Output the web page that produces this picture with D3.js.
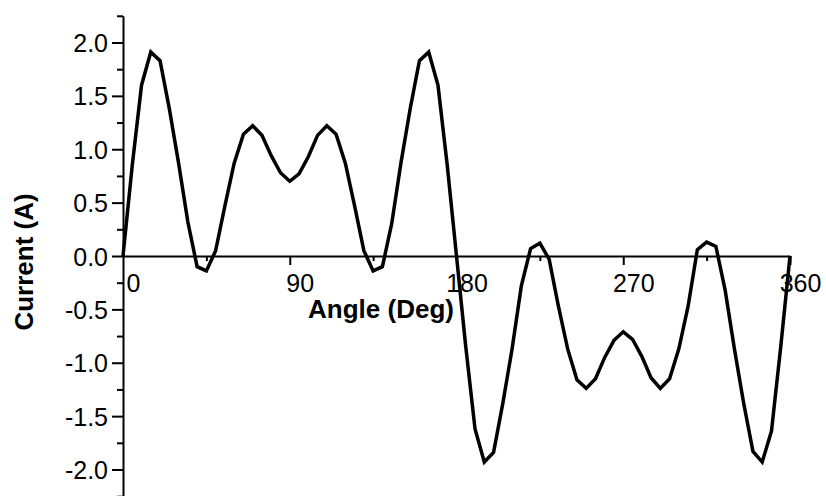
<!DOCTYPE html>
<html>
<head>
<meta charset="utf-8">
<script src="https://cdn.jsdelivr.net/npm/d3@7"></script>
<style>
  html, body { margin: 0; padding: 0; background: #fff; }
  svg { display: block; }
  text { font-family: "Liberation Sans", Arial, sans-serif; fill: #000; }
</style>
</head>
<body>
<svg id="chart" width="826" height="496"></svg>
<script>
// ---- data ----
const angles = [0,5,10,15,20,25,30,35,40,45,50,55,60,65,70,75,80,85,90,
  95,100,105,110,115,120,125,130,135,140,145,150,155,160,165,170,175,180,
  185,190,195,200,205,210,215,220,225,230,235,240,245,250,255,260,265,270,
  275,280,285,290,295,300,305,310,315,320,325,330,335,340,345,350,355,360];
const current = [0,0.85,1.60,1.91,1.83,1.38,0.87,0.32,-0.10,-0.14,0.05,0.47,0.87,1.14,1.22,1.13,0.94,0.78,0.70,
  0.77,0.93,1.13,1.22,1.14,0.87,0.47,0.05,-0.14,-0.10,0.30,0.87,1.38,1.83,1.91,1.60,0.85,0.00,
  -0.85,-1.62,-1.93,-1.84,-1.38,-0.87,-0.28,0.07,0.12,-0.03,-0.47,-0.87,-1.16,-1.24,-1.15,-0.95,-0.79,-0.71,
  -0.78,-0.94,-1.14,-1.24,-1.15,-0.87,-0.47,0.06,0.13,0.09,-0.32,-0.87,-1.38,-1.83,-1.93,-1.64,-0.85,0];
const xMajorTicks = [90,180,270,360];
const xLabelTicks = [0,90,180,270,360];
const xMinorTicks = [45,135,225,315];
const yMajorTicks = [-2.0,-1.5,-1.0,-0.5,0.0,0.5,1.0,1.5,2.0];
const yMinorTicks = [-2.25,-1.75,-1.25,-0.75,-0.25,0.25,0.75,1.25,1.75,2.25];
const xTitle = "Angle (Deg)";
const yTitle = "Current (A)";

// ---- layout ----
const svg = d3.select("#chart");
const x = d3.scaleLinear().domain([0,360]).range([123,790]);
const y = d3.scaleLinear().domain([-2.25,2.25]).range([496.2,15.8]);
const y0 = y(0);

// y axis
const gy = svg.append("g").attr("transform",`translate(${x(0)},0)`);
gy.call(d3.axisLeft(y).tickValues(yMajorTicks).tickSize(11).tickSizeOuter(0)
  .tickFormat(d => d.toFixed(1)));
gy.selectAll("text").attr("x",-15).attr("dy","0.36em").style("font-size","25px");
const gyMinor = svg.append("g").attr("transform",`translate(${x(0)},0)`);
gyMinor.call(d3.axisLeft(y).tickValues(yMinorTicks).tickSize(6).tickFormat(""));
gyMinor.select(".domain").remove();

// x axis at y = 0
const gx = svg.append("g").attr("transform",`translate(0,${y0})`);
gx.call(d3.axisBottom(x).tickValues(xMajorTicks).tickSize(9).tickSizeOuter(0).tickFormat(""));
const gxMinor = svg.append("g").attr("transform",`translate(0,${y0})`);
gxMinor.call(d3.axisBottom(x).tickValues(xMinorTicks).tickSize(5).tickFormat(""));
gxMinor.select(".domain").remove();
// x tick labels (offset right of their ticks, as in the reference)
svg.append("g").selectAll("text").data(xLabelTicks).join("text")
  .attr("x", d => x(d) + 10.5)
  .attr("y", y0 + 36)
  .attr("text-anchor","middle")
  .style("font-size","25px")
  .text(d => d);

svg.selectAll(".domain, .tick line").attr("stroke","#000").attr("stroke-width",2);
svg.selectAll(".tick text").attr("fill","#000");

// titles
svg.append("text").attr("x",381).attr("y",318).attr("text-anchor","middle")
  .style("font-size","26px").style("font-weight","bold").text(xTitle);
svg.append("text").attr("transform","translate(33,262) rotate(-90)").attr("text-anchor","middle")
  .style("font-size","26px").style("font-weight","bold").text(yTitle);

// curve
const pts = angles.map((a,i) => [a, current[i]]);
svg.append("path").datum(pts)
  .attr("fill","none").attr("stroke","#000").attr("stroke-width",3.5)
  .attr("stroke-linejoin","miter")
  .attr("d", d3.line().x(d => x(d[0])).y(d => y(d[1])));
</script>
</body>
</html>
